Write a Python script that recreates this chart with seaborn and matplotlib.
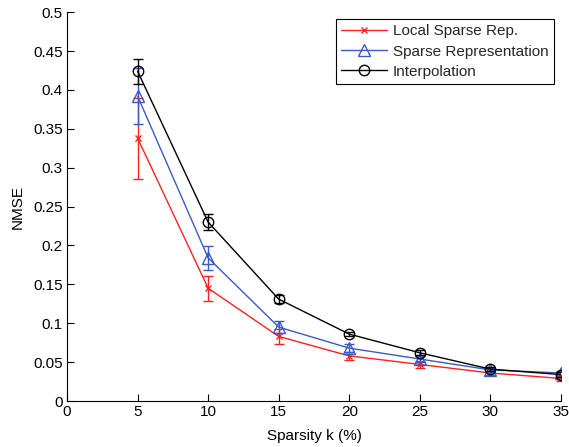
import matplotlib
matplotlib.use("Agg")
import matplotlib.pyplot as plt
import seaborn as sns
import pandas as pd

sparsity = [5, 10, 15, 20, 25, 30, 35]
local_sparse = [0.338, 0.145, 0.083, 0.058, 0.047, 0.036, 0.029]
local_err = [0.052, 0.016, 0.010, 0.005, 0.005, 0.003, 0.003]
sparse_rep = [0.392, 0.184, 0.095, 0.068, 0.054, 0.040, 0.036]
sparse_err = [0.036, 0.015, 0.008, 0.005, 0.004, 0.003, 0.003]
interp = [0.424, 0.230, 0.131, 0.086, 0.062, 0.041, 0.034]
interp_err = [0.016, 0.010, 0.005, 0.003, 0.003, 0.003, 0.003]

labels = ["Local Sparse Rep.", "Sparse Representation", "Interpolation"]
series = [local_sparse, sparse_rep, interp]
errs = [local_err, sparse_err, interp_err]
colors = ["#ff2020", "#3a5bbf", "#000000"]
markers = ["x", "^", "o"]
msizes = [4, 8, 7.5]

sns.set_theme(style="white")
plt.rcParams["font.family"] = ["Liberation Sans", "DejaVu Sans"]

fig = plt.figure(figsize=(5.69, 4.47), dpi=100)
ax = fig.add_axes([0.1178, 0.1029, 0.868, 0.870])

for lab, vals, e, c, m, ms in zip(labels, series, errs, colors, markers, msizes):
    df = pd.DataFrame({"x": sparsity, "y": vals})
    sns.lineplot(data=df, x="x", y="y", ax=ax, color=c, marker=m, markersize=ms,
                 markerfacecolor="none", markeredgecolor=c, markeredgewidth=1.0,
                 linewidth=1.0, label=lab)
    ax.errorbar(sparsity, vals, yerr=e, fmt="none", ecolor=c, elinewidth=1.0,
                capsize=3.8, capthick=1.0)

ax.set_xlim(0, 35)
ax.set_ylim(0, 0.5)
ax.set_xticks(range(0, 36, 5))
ax.set_yticks([0, 0.05, 0.1, 0.15, 0.2, 0.25, 0.3, 0.35, 0.4, 0.45, 0.5])
ax.set_yticklabels(["0", "0.05", "0.1", "0.15", "0.2", "0.25", "0.3", "0.35", "0.4", "0.45", "0.5"])
ax.set_xlabel("Sparsity k (%)", fontsize=11, color="black", labelpad=7)
ax.set_ylabel("NMSE", fontsize=11, color="black", labelpad=6)
ax.tick_params(axis="both", direction="in", length=5, width=0.8, labelsize=11,
               colors="black", left=True, bottom=True, pad=3)
for s in ["top", "right"]:
    ax.spines[s].set_visible(False)
for s in ["left", "bottom"]:
    ax.spines[s].set_color("black")
    ax.spines[s].set_linewidth(0.8)

leg = ax.legend(loc="upper right", bbox_to_anchor=(0.985, 0.982), fontsize=11,
                frameon=True, fancybox=False, edgecolor="black", framealpha=1,
                handlelength=3.0, handletextpad=0.35, borderpad=0.35,
                labelspacing=0.4, borderaxespad=0.0)
leg.get_frame().set_linewidth(0.8)

fig.savefig("out.png", dpi=100)
